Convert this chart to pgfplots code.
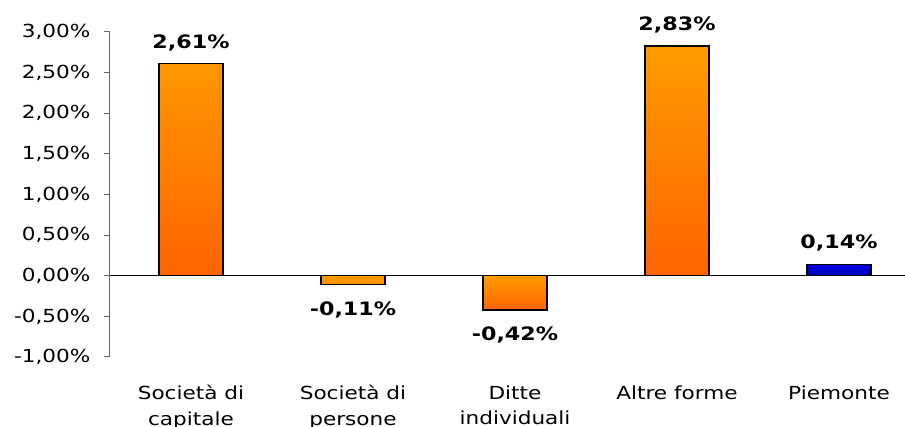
\documentclass[border=0pt]{standalone}
\usepackage{fontspec}
\setmainfont{DejaVu Sans}[FakeStretch=1.2]
\usepackage{pgfplots}
\pgfplotsset{compat=1.18}
\definecolor{orTop}{RGB}{255,155,0}
\definecolor{orBot}{RGB}{255,100,0}
\definecolor{blTop}{RGB}{0,0,235}
\definecolor{blBot}{RGB}{0,0,175}
\begin{document}
\begin{tikzpicture}[x=1pt,y=1pt]
\clip (0,0) rectangle (905,427);
\path[use as bounding box] (0,0) rectangle (905,427);
\begin{axis}[
  at={(110pt,70pt)}, anchor=south west,
  scale only axis, width=810pt, height=325pt,
  xmin=-0.5, xmax=4.5, ymin=-1, ymax=3,
  axis y line*=left, axis x line*=bottom,
  x axis line style={draw=none},
  y axis line style={draw=gray!80!black, line width=1pt},
  ytick={-1,-0.5,...,3},
  ytick style={draw=gray!80!black, line width=1pt},
  tick align=outside, major tick length=6pt,
  xtick={0,1,2,3,4}, xtick style={draw=none},
  xticklabels={{Società di\\capitale},{Società di\\persone},{Ditte\\individuali},{Altre forme},{Piemonte}},
  xticklabel style={align=center, font=\fontsize{18}{25.5}\selectfont, anchor=north, yshift=-19pt},
  yticklabel style={font=\fontsize{18}{21}\selectfont, xshift=-10pt},
  /pgf/number format/assume math mode=true,
  yticklabel={\pgfmathprintnumber[fixed,fixed zerofill,precision=2,use comma]{\tick}\%},
  ybar, bar width=64pt, bar shift=0pt,
  nodes near coords={\pgfmathprintnumber[fixed,fixed zerofill,precision=2,use comma]{\pgfplotspointmeta}\%},
  nodes near coords align=vertical,
  every node near coord/.append style={font=\fontsize{18.5}{22}\selectfont\bfseries, black, inner ysep=12pt},
  clip=false,
]
% positive sectors
\addplot[draw=black, line width=1.5pt, top color=orTop, bottom color=orBot]
  coordinates {(0,2.61) (3,2.83)};
% negative sectors, labels set further below the bars
\addplot[draw=black, line width=1.5pt, top color=orTop, bottom color=orBot,
  every node near coord/.append style={inner ysep=16pt}]
  coordinates {(1,-0.11) (2,-0.42)};
% regional total
\addplot[draw=black, line width=1.5pt, top color=blTop, bottom color=blBot]
  coordinates {(4,0.14)};
\draw[black, line width=0.8pt] (axis cs:-0.5,0) -- (axis cs:4.5,0);
\end{axis}
\end{tikzpicture}
\end{document}
